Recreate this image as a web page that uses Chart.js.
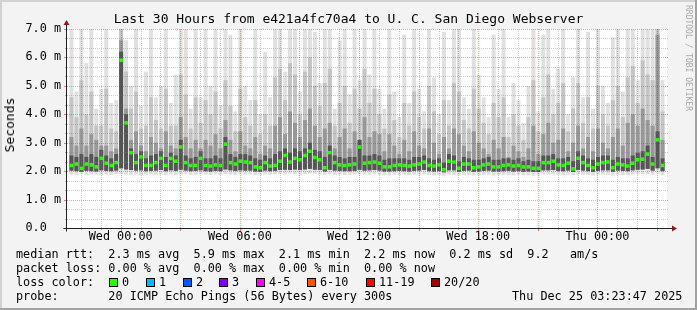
<!DOCTYPE html>
<html>
<head>
<meta charset="utf-8">
<script src="https://cdn.jsdelivr.net/npm/chart.js@4.4.1/dist/chart.umd.min.js"></script>
<style>
  body { margin: 0; background: #f3f3f3; }
  #wrap { position: relative; width: 697px; height: 310px; font-family: "DejaVu Sans Mono", monospace; color: #000; overflow: hidden; }
  #wrap canvas { position: absolute; left: 0; top: 0; }
  .txt { position: absolute; white-space: pre; line-height: 14px; font-size: 11.8px; }
  #title { position: absolute; left: 0; top: 11px; width: 697px; text-align: center; font-size: 13px; line-height: 16px; white-space: pre; }
  #ylab { position: absolute; left: 10px; top: 125px; font-size: 13px; line-height: 16px; transform: translate(-50%, -50%) rotate(-90deg); white-space: pre; }
  #credit { position: absolute; left: 688px; top: 58px; font-size: 8px; line-height: 10px; color: #a8a8a8; transform: translate(-50%, -50%) rotate(90deg); white-space: pre; }
  .box { position: absolute; width: 7px; height: 7px; border: 1px solid #000; }
</style>
</head>
<body>
<div id="wrap">
  <canvas id="smoke" width="697" height="310"></canvas>
  <div id="title">Last 30 Hours from e421a4fc70a4 to U. C. San Diego Webserver</div>
  <div id="ylab">Seconds</div>
  <div id="credit">RRDTOOL / TOBI OETIKER</div>
  <div id="legend"></div>
</div>
<script>
// 1. DATA (15 minute slots, 30 hours, milliseconds)
const median = [
  2.2, 2.25, 2.1, 2.25, 2.22, 2.15, 2.45, 2.28, 2.2, 2.3,
  5.9, 3.7, 2.65, 2.3, 2.5, 2.2, 2.2, 2.3, 2.45, 2.2,
  2.45, 2.35, 2.85, 2.3, 2.2, 2.2, 2.45, 2.2, 2.18, 2.22,
  2.2, 2.95, 2.3, 2.25, 2.35, 2.32, 2.3, 2.15, 2.12, 2.3,
  2.18, 2.2, 2.35, 2.55, 2.32, 2.45, 2.4, 2.55, 2.7, 2.48,
  2.4, 2.12, 2.65, 2.3, 2.22, 2.2, 2.22, 2.25, 2.85, 2.28,
  2.3, 2.32, 2.28, 2.15, 2.15, 2.2, 2.22, 2.2, 2.18, 2.22,
  2.25, 2.32, 2.2, 2.18, 2.22, 2.05, 2.35, 2.32, 2.1, 2.25,
  2.25, 2.12, 2.15, 2.22, 2.25, 2.15, 2.15, 2.2, 2.22, 2.18,
  2.2, 2.15, 2.15, 2.1, 2.1, 2.3, 2.3, 2.35, 2.22, 2.2,
  2.28, 2.08, 2.45, 2.3, 2.2, 2.12, 2.25, 2.3, 2.32, 2.12,
  2.25, 2.22, 2.18, 2.28, 2.4, 2.42, 2.6, 2.25, 3.1, 2.2
];
const pingMin = [
  1.88, 1.87, 1.9, 1.86, 1.88, 1.89, 1.87, 1.88, 1.86, 1.9,
  1.9, 1.88, 1.87, 1.89, 1.86, 1.88, 1.9, 1.87, 1.88, 1.86,
  1.89, 1.87, 1.88, 1.9, 1.86, 1.87, 1.89, 1.88, 1.86, 1.88,
  1.87, 1.9, 1.88, 1.86, 1.89, 1.87, 1.88, 1.86, 1.85, 1.88,
  1.87, 1.89, 1.9, 1.88, 1.91, 1.9, 1.88, 1.9, 1.92, 1.89,
  1.88, 1.86, 1.9, 1.87, 1.88, 1.86, 1.87, 1.88, 1.9, 1.87,
  1.88, 1.89, 1.87, 1.86, 1.85, 1.87, 1.86, 1.88, 1.86, 1.87,
  1.88, 1.89, 1.86, 1.85, 1.87, 1.84, 1.88, 1.87, 1.85, 1.86,
  1.87, 1.85, 1.86, 1.87, 1.88, 1.85, 1.86, 1.87, 1.86, 1.85,
  1.87, 1.85, 1.86, 1.84, 1.85, 1.88, 1.87, 1.89, 1.87, 1.86,
  1.87, 1.85, 1.88, 1.87, 1.86, 1.85, 1.87, 1.88, 1.87, 1.85,
  1.87, 1.86, 1.86, 1.88, 1.89, 1.9, 1.9, 1.87, 1.92, 1.86
];
const pingLow = [
  2.02, 2.0, 1.98, 2.01, 2.0, 1.99, 2.03, 2.01, 2.0, 2.02,
  2.1, 2.06, 2.04, 2.02, 2.03, 2.0, 2.01, 2.02, 2.04, 2.0,
  2.03, 2.01, 2.05, 2.02, 2.0, 2.01, 2.03, 2.0, 1.99, 2.01,
  2.0, 2.06, 2.03, 2.01, 2.03, 2.02, 2.02, 1.99, 1.98, 2.02,
  2.0, 2.01, 2.04, 2.05, 2.04, 2.06, 2.04, 2.06, 2.08, 2.05,
  2.04, 1.99, 2.05, 2.02, 2.01, 2.0, 2.0, 2.01, 2.05, 2.02,
  2.03, 2.04, 2.02, 1.99, 1.99, 2.0, 2.01, 2.0, 1.99, 2.01,
  2.02, 2.04, 2.0, 1.99, 2.0, 1.96, 2.03, 2.03, 1.98, 2.01,
  2.02, 1.98, 1.99, 2.01, 2.02, 1.99, 1.99, 2.0, 2.01, 1.99,
  2.0, 1.98, 1.99, 1.97, 1.97, 2.03, 2.03, 2.04, 2.01, 2.0,
  2.02, 1.97, 2.04, 2.02, 2.0, 1.98, 2.01, 2.03, 2.03, 1.98,
  2.02, 2.01, 2.0, 2.03, 2.05, 2.06, 2.08, 2.02, 2.1, 2.0
];
const smokeDark = [
  2.55, 2.5, 2.6, 2.5, 2.6, 2.5, 2.75, 2.55, 2.45, 2.6,
  6.2, 4.0, 2.8, 2.6, 2.7, 2.45, 2.55, 2.6, 2.7, 2.5,
  2.65, 2.55, 3.1, 2.55, 2.45, 2.5, 2.7, 2.45, 2.45, 2.55,
  2.45, 3.2, 2.6, 2.5, 2.6, 2.6, 2.55, 2.45, 2.4, 2.55,
  2.45, 2.6, 2.7, 2.8, 2.65, 2.8, 2.7, 2.8, 3.0, 2.75,
  2.7, 2.5, 2.9, 2.55, 2.5, 2.45, 2.5, 2.5, 3.1, 2.55,
  2.55, 2.6, 2.55, 2.4, 2.45, 2.45, 2.45, 2.45, 2.4, 2.5,
  2.5, 2.55, 2.45, 2.4, 2.45, 2.3, 2.6, 2.55, 2.35, 2.5,
  2.45, 2.4, 2.4, 2.45, 2.5, 2.4, 2.4, 2.45, 2.45, 2.4,
  2.45, 2.35, 2.4, 2.35, 2.35, 2.55, 2.55, 2.6, 2.45, 2.45,
  2.5, 2.35, 2.7, 2.55, 2.45, 2.4, 2.5, 2.55, 2.55, 2.4,
  2.5, 2.45, 2.45, 2.55, 2.65, 2.7, 2.9, 2.5, 3.4, 2.45
];
const smokeMid = [
  3.2, 2.9, 3.5, 2.9, 3.3, 3.1, 2.9, 2.9, 2.7, 2.8,
  6.6, 4.2, 3.1, 3.4, 2.9, 2.7, 3.2, 3.0, 2.8, 3.4,
  2.9, 2.8, 3.9, 3.2, 2.8, 3.1, 2.8, 3.1, 2.9, 3.3,
  2.8, 3.8, 3.1, 2.7, 3.4, 2.9, 2.8, 3.2, 2.6, 2.9,
  2.8, 3.6, 3.9, 3.3, 4.1, 3.7, 3.2, 3.8, 4.2, 3.6,
  3.2, 3.5, 3.7, 2.8, 3.2, 3.5, 2.8, 3.4, 3.1, 3.9,
  3.2, 3.4, 3.3, 2.7, 3.3, 2.9, 2.6, 3.1, 2.7, 3.4,
  2.9, 2.8, 3.5, 3.0, 2.6, 3.2, 2.8, 3.5, 3.3, 2.9,
  2.7, 3.4, 3.0, 2.8, 2.6, 3.1, 2.8, 3.2, 2.5, 2.9,
  2.7, 2.5, 2.8, 3.6, 2.6, 3.3, 3.7, 3.0, 3.1, 3.5,
  2.7, 3.0, 3.6, 2.8, 3.2, 2.7, 3.5, 3.0, 2.8, 3.2,
  3.5, 2.9, 3.7, 4.0, 3.6, 4.2, 3.8, 3.6, 6.8, 3.1
];
const smokeLight = [
  4.6, 3.9, 5.2, 4.0, 4.8, 3.6, 3.6, 4.9, 3.5, 3.4,
  7.5, 5.5, 4.2, 4.8, 3.5, 3.6, 4.6, 3.8, 3.5, 4.9,
  3.6, 3.6, 5.4, 4.7, 3.5, 4.6, 3.7, 4.5, 4.0, 4.8,
  3.5, 5.2, 4.3, 3.4, 4.9, 3.9, 3.6, 4.5, 3.3, 4.0,
  3.6, 5.3, 5.6, 4.5, 5.8, 5.4, 4.0, 5.5, 6.0, 5.0,
  4.3, 5.1, 5.6, 3.6, 4.4, 5.0, 3.7, 4.9, 4.2, 5.6,
  4.4, 4.9, 4.0, 3.5, 4.7, 3.8, 3.2, 4.4, 3.6, 4.8,
  3.9, 3.5, 5.0, 4.1, 3.3, 4.5, 3.6, 5.1, 4.8, 3.8,
  3.5, 4.9, 4.2, 3.7, 3.3, 4.4, 3.9, 4.6, 3.2, 4.0,
  3.6, 3.1, 3.9, 5.2, 3.4, 4.6, 5.4, 4.0, 4.4, 5.1,
  3.4, 4.2, 5.1, 3.7, 4.6, 3.5, 5.0, 4.0, 3.6, 4.5,
  5.0, 3.9, 5.3, 5.7, 4.4, 5.9, 5.4, 5.2, 7.6, 4.1
];
const pingMax = [
  7.5, 4.8, 7.4, 5.8, 7.6, 4.2, 4.9, 7.3, 4.4, 4.5,
  8.0, 6.6, 5.0, 7.3, 4.3, 5.5, 7.1, 4.6, 5.0, 7.3,
  4.4, 5.4, 7.5, 7.2, 4.2, 7.4, 4.6, 7.2, 5.0, 7.4,
  4.3, 7.2, 6.8, 4.1, 7.4, 5.0, 4.5, 7.1, 4.0, 6.2,
  4.6, 7.3, 7.4, 5.5, 7.6, 7.2, 4.8, 7.3, 7.5, 6.9,
  5.1, 7.2, 7.4, 4.2, 6.6, 7.3, 4.7, 7.2, 5.2, 7.5,
  5.4, 7.3, 4.9, 4.2, 7.1, 4.8, 3.9, 6.8, 4.4, 7.2,
  4.9, 4.1, 7.4, 5.3, 4.0, 6.9, 4.5, 7.3, 7.1, 4.6,
  4.2, 7.2, 5.4, 4.6, 3.9, 6.8, 4.9, 7.0, 3.9, 5.1,
  4.5, 3.7, 5.0, 7.3, 4.1, 6.8, 7.4, 4.9, 5.6, 7.2,
  4.0, 5.3, 7.3, 4.6, 6.9, 4.2, 7.4, 5.0, 4.4, 6.7,
  7.2, 4.8, 7.4, 7.5, 5.2, 7.6, 7.4, 7.3, 8.0, 5.2
];

// time axis: hours relative to Wed 00:00
const startHour = -2.6;
const endHour = 27.4;
const slotHours = 0.25;
const gridHours = [-2, -1, 0, 1, 2, 3, 4, 5, 6, 7, 8, 9, 10, 11, 12, 13, 14, 15, 16, 17, 18, 19, 20, 21, 22, 23, 24, 25, 26, 27];
const xTickHours = [0, 6, 12, 18, 24];
const xTickText = ['Wed 00:00', 'Wed 06:00', 'Wed 12:00', 'Wed 18:00', 'Thu 00:00'];
const yTickText = ['0.0  ', '1.0 m', '2.0 m', '3.0 m', '4.0 m', '5.0 m', '6.0 m', '7.0 m'];

// legend text
const legendRows = [
  'median rtt:  2.3 ms avg  5.9 ms max  2.1 ms min  2.2 ms now  0.2 ms sd  9.2   am/s',
  'packet loss: 0.00 % avg  0.00 % max  0.00 % min  0.00 % now',
  'loss color:',
  'probe:       20 ICMP Echo Pings (56 Bytes) every 300s'
];
const lossLabels = ['0', '1', '2', '3', '4-5', '6-10', '11-19', '20/20'];
const lossColors = ['#26ff00', '#00b8ff', '#0059ff', '#7e00ff', '#ff00ff', '#ff5500', '#ff0000', '#a10000'];
const lossBoxX = [109, 146, 183, 219, 256, 307, 366, 431];
const stampText = 'Thu Dec 25 03:23:47 2025';

// 2. LEGEND (plain DOM text)
const legend = document.getElementById('legend');
legendRows.forEach((row, i) => {
  const d = document.createElement('div');
  d.className = 'txt';
  d.style.left = '16px';
  d.style.top = (247 + i * 14) + 'px';
  d.textContent = row;
  legend.appendChild(d);
});
lossLabels.forEach((lab, i) => {
  const b = document.createElement('div');
  b.className = 'box';
  b.style.left = lossBoxX[i] + 'px';
  b.style.top = '278px';
  b.style.background = lossColors[i];
  legend.appendChild(b);
  const t = document.createElement('div');
  t.className = 'txt';
  t.style.left = (lossBoxX[i] + 13) + 'px';
  t.style.top = '275px';
  t.textContent = lab;
  legend.appendChild(t);
});
const stamp = document.createElement('div');
stamp.className = 'txt';
stamp.style.left = '512px';
stamp.style.top = '289px';
stamp.textContent = stampText;
legend.appendChild(stamp);

// 3. CHART
const slotX = i => startHour + (i + 0.5) * slotHours;
const band = (lowArr, highArr) => highArr.map((v, i) => ({ x: slotX(i), y: [lowArr[i], v] }));

const rrdFrame = {
  id: 'rrdFrame',
  beforeDraw(chart) {
    const { ctx, chartArea: a } = chart;
    ctx.save();
    ctx.fillStyle = '#f3f3f3';
    ctx.fillRect(0, 0, 697, 310);
    ctx.fillStyle = '#d2d2d2';
    ctx.fillRect(0, 0, 697, 2);
    ctx.fillRect(0, 0, 2, 310);
    ctx.fillStyle = '#a2a2a2';
    ctx.fillRect(695, 0, 2, 310);
    ctx.fillRect(0, 308, 697, 2);
    ctx.fillStyle = '#ffffff';
    ctx.fillRect(a.left, a.top, a.right - a.left, a.bottom - a.top);
    ctx.restore();
  },
  beforeDatasetDraw(chart, args) {
    if (args.meta.type !== 'line') return;
    // grid drawn over the smoke, under the median
    const { ctx, chartArea: a, scales: { x, y } } = chart;
    ctx.save();
    ctx.lineWidth = 1;
    ctx.setLineDash([1, 1]);
    gridHours.forEach(h => {
      const px = Math.round(x.getPixelForValue(h)) + 0.5;
      ctx.strokeStyle = h % 3 === 0 ? 'rgba(255,0,0,0.38)' : 'rgba(130,130,130,0.42)';
      ctx.beginPath();
      ctx.moveTo(px, a.top);
      ctx.lineTo(px, a.bottom);
      ctx.stroke();
    });
    for (let k = 1; k <= 21; k++) {
      const py = Math.round(y.getPixelForValue(k / 3)) + 0.5;
      ctx.strokeStyle = k % 3 === 0 ? 'rgba(255,0,0,0.38)' : 'rgba(130,130,130,0.42)';
      ctx.beginPath();
      ctx.moveTo(a.left, py);
      ctx.lineTo(a.right + 2, py);
      ctx.stroke();
    }
    ctx.restore();
  },
  afterDraw(chart) {
    const { ctx, chartArea: a, scales: { x, y } } = chart;
    ctx.save();
    ctx.lineWidth = 1;
    // tick marks
    for (let k = 0; k <= 21; k++) {
      const py = Math.round(y.getPixelForValue(k / 3)) + 0.5;
      ctx.strokeStyle = k % 3 === 0 ? '#ff7070' : '#b0b0b0';
      ctx.beginPath();
      ctx.moveTo(a.left - (k % 3 === 0 ? 3 : 2), py);
      ctx.lineTo(a.left, py);
      ctx.stroke();
    }
    gridHours.forEach(h => {
      const px = Math.round(x.getPixelForValue(h)) + 0.5;
      ctx.strokeStyle = h % 3 === 0 ? '#ff7070' : '#b0b0b0';
      ctx.beginPath();
      ctx.moveTo(px, a.bottom);
      ctx.lineTo(px, a.bottom + (h % 3 === 0 ? 3 : 2));
      ctx.stroke();
    });
    // axes
    const ax = Math.round(a.left) - 0.5;
    const ay = Math.round(a.bottom) + 0.5;
    ctx.strokeStyle = '#222';
    ctx.beginPath();
    ctx.moveTo(ax, ay + 3);
    ctx.lineTo(ax, a.top - 4);
    ctx.moveTo(ax - 3, ay);
    ctx.lineTo(a.right + 6, ay);
    ctx.stroke();
    // arrows
    ctx.fillStyle = '#8b1a1a';
    ctx.beginPath();
    ctx.moveTo(ax - 3, a.top - 4);
    ctx.lineTo(ax + 3, a.top - 4);
    ctx.lineTo(ax, a.top - 9);
    ctx.closePath();
    ctx.fill();
    ctx.beginPath();
    ctx.moveTo(a.right + 5, ay - 3);
    ctx.lineTo(a.right + 5, ay + 3);
    ctx.lineTo(a.right + 10, ay);
    ctx.closePath();
    ctx.fill();
    ctx.restore();
  }
};

Chart.defaults.font.family = '"DejaVu Sans Mono", monospace';
Chart.defaults.font.size = 11.8;
Chart.defaults.color = '#000';

const barOpts = { type: 'bar', grouped: false, barPercentage: 1, categoryPercentage: 1, borderWidth: 0, inflateAmount: 0 };

new Chart(document.getElementById('smoke'), {
  data: {
    datasets: [
      { ...barOpts, label: 'max', data: band(pingMin, pingMax), backgroundColor: '#e0e0e0', order: 5 },
      { ...barOpts, label: 'light', data: band(pingLow, smokeLight), backgroundColor: '#c4c4c4', order: 4 },
      { ...barOpts, label: 'mid', data: band(pingLow, smokeMid), backgroundColor: '#989898', order: 3 },
      { ...barOpts, label: 'dark', data: band(pingLow, smokeDark), backgroundColor: '#555555', order: 2 },
      {
        type: 'line', label: 'median', order: 1,
        data: median.map((v, i) => ({ x: slotX(i), y: v })),
        showLine: false, pointStyle: 'rect', pointRadius: 2.5,
        pointBackgroundColor: '#26ff00', pointBorderWidth: 0
      }
    ]
  },
  options: {
    responsive: false,
    devicePixelRatio: 1,
    animation: false,
    events: [],
    layout: { padding: { left: 0, top: 29, right: 30, bottom: 62 } },
    plugins: { legend: { display: false }, title: { display: false }, tooltip: { enabled: false } },
    scales: {
      x: {
        type: 'linear',
        min: startHour,
        max: endHour,
        grid: { display: false, drawTicks: false },
        border: { display: false },
        ticks: {
          stepSize: 0.2, maxTicksLimit: 1000, autoSkip: false, maxRotation: 0, padding: 2,
          callback: v => {
            const k = xTickHours.findIndex(h => Math.abs(h - v) < 1e-6);
            return k >= 0 ? xTickText[k] : '';
          }
        },
        afterFit: s => { s.height = 20; }
      },
      y: {
        min: 0,
        max: 7,
        grid: { display: false, drawTicks: false },
        border: { display: false },
        ticks: { stepSize: 1, padding: 6, callback: v => yTickText[Math.round(v)] },
        afterFit: s => { s.width = 67; }
      }
    }
  },
  plugins: [rrdFrame]
});
</script>
</body>
</html>
